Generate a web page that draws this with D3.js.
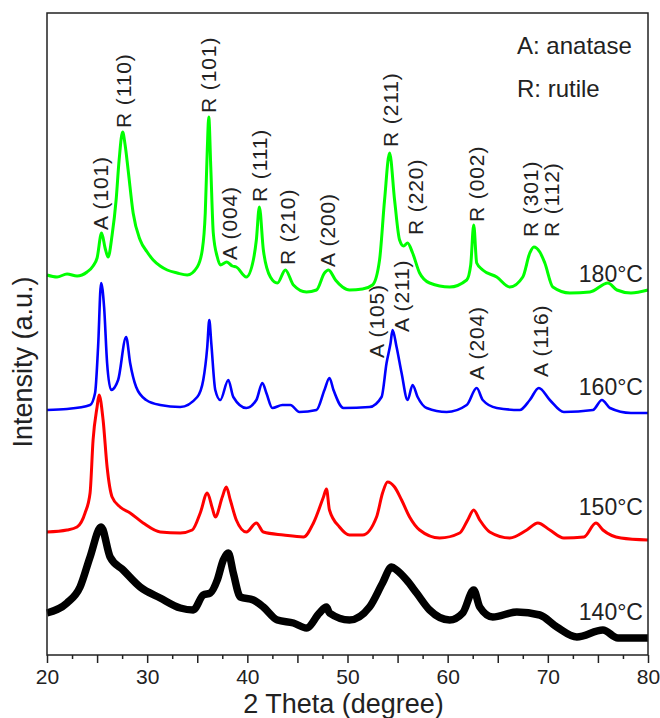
<!DOCTYPE html>
<html>
<head>
<meta charset="utf-8">
<script src="https://cdn.jsdelivr.net/npm/d3@7"></script>
<style>
  body { margin: 0; background: #fff; }
  svg text { font-family: "Liberation Sans", Arial, sans-serif; fill: #222; }
</style>
</head>
<body>
<svg id="chart" width="660" height="718"></svg>
<script>
// XRD patterns: [2 theta (deg), intensity (a.u., stacked)]
const xrd180 = [[20,380],[21,378],[22,381],[23,379],[24,383],[24.6,389],[25,397],[25.45,422],[25.8,407],[26.1,398],[26.5,420],[26.9,455],[27.2,495],[27.55,523],[27.8,510],[28.1,485],[28.6,442],[29.3,415],[30,403],[30.6,395],[31.3,389],[32,385],[33,382],[34,380],[35,388],[35.5,405],[35.8,442],[36,505],[36.15,538],[36.35,488],[36.6,422],[37,398],[37.3,390],[37.95,393],[38.5,389],[38.9,388],[39.9,378],[40.6,395],[40.9,415],[41.2,448],[41.6,405],[42.3,378],[43,372],[43.8,385],[44.6,370],[45.9,363],[46.9,365],[47.7,382],[48.1,385],[48.8,375],[49.5,368],[50.2,365],[51.5,366],[52.5,370],[53.2,395],[53.7,455],[54.2,502],[54.7,455],[55.2,415],[55.6,409],[56,412],[56.5,402],[57.2,382],[58.2,372],[60.2,368],[61.9,375],[62.3,390],[62.6,430],[62.9,392],[63.5,385],[64.9,378],[66.2,368],[67.5,378],[68.2,402],[68.6,408],[69.2,403],[69.7,392],[70.5,368],[72.2,362],[74.2,363],[76,372],[76.9,365],[78.3,362],[80,365]];
const xrd160 = [[20,245],[22,246],[24.3,250],[24.8,262],[25.1,308],[25.4,372],[25.7,348],[26,292],[26.4,265],[27.1,275],[27.9,318],[28.3,292],[28.9,268],[29.9,255],[31.3,250],[33.3,248],[35,258],[35.6,275],[36,308],[36.2,335],[36.4,312],[36.8,265],[37.3,255],[38.1,275],[38.6,258],[39.9,247],[40.9,255],[41.5,272],[41.9,262],[42.5,247],[43.5,250],[44.3,250],[45.2,243],[46.9,245],[47.7,265],[48.2,277],[48.6,265],[49.6,247],[52.2,248],[53.4,258],[53.9,292],[54.3,312],[54.5,325],[54.9,308],[55.4,282],[56,255],[56.5,270],[57,258],[57.9,247],[59.9,243],[61.9,250],[62.9,267],[63.5,255],[64.9,247],[67.2,245],[68.2,255],[69.1,267],[70.2,255],[71.6,243],[74.5,245],[75.4,255],[76.2,247],[78.3,242],[80,242]];
const xrd150 = [[20,123],[22,125],[23,128],[23.8,142],[24.3,162],[24.6,215],[25,248],[25.2,260],[25.6,235],[26,188],[26.5,158],[27.3,148],[28.3,142],[29.6,132],[31.3,123],[33.3,122],[34.5,125],[35.3,142],[36,162],[36.5,147],[36.8,138],[37.5,158],[37.9,168],[38.3,155],[38.9,135],[39.9,123],[40.9,132],[41.6,123],[43.6,120],[45.6,118],[46.6,132],[47.6,158],[47.9,166],[48.2,145],[49.2,128],[50.2,120],[51.5,120],[52.9,138],[53.5,162],[54,173],[54.7,168],[55.4,155],[56.2,138],[57.2,125],[59.2,117],[61.2,122],[62,135],[62.6,145],[63.2,135],[64.2,123],[66.2,117],[67.9,125],[69,132],[70.2,125],[71.6,117],[73.6,118],[74.8,132],[75.5,125],[77.3,117],[80,115]];
const xrd140 = [[20,42],[22,52],[23.3,68],[24.3,98],[25.4,128],[26.3,98],[27.6,85],[29.3,68],[31.3,57],[33.3,47],[34.6,45],[35.6,60],[36.3,62],[37,75],[37.6,95],[38.1,102],[38.6,82],[39.3,58],[40.6,55],[41.6,48],[43,35],[44.6,32],[45.9,27],[47.2,42],[47.9,48],[48.2,42],[50.2,35],[52.2,48],[53.5,72],[54.4,88],[54.9,85],[55.9,75],[56.9,62],[58.2,45],[60.2,35],[61.5,42],[62.6,65],[63.2,48],[64.5,38],[66.9,43],[69.2,40],[70.9,28],[72.9,18],[75.5,25],[77,17],[80,17]];

const seriesNames = ["180°C", "160°C", "150°C", "140°C"];
const seriesColors = ["#00ff00", "#0000ff", "#ff0000", "#000000"];
const seriesWidths = [3, 2.6, 3, 7.5];
const seriesData = [xrd180, xrd160, xrd150, xrd140];
// where each temperature tag sits: [2 theta, intensity]
const tagPos = [[79.5, 373], [79.5, 260], [79.5, 140], [79.5, 35]];

// reflection labels: text, 2 theta, intensity at start of text
const peakLabels = [
  ["A (101)", 25.29, 425], ["R (110)", 27.64, 527], ["R (101)", 36.12, 542],
  ["A (004)", 38.22, 395], ["R (111)", 41.21, 453], ["R (210)", 43.96, 390],
  ["A (200)", 48.0, 388], ["R (211)", 54.24, 508], ["R (220)", 56.74, 420],
  ["R (002)", 62.88, 433], ["R (301)", 68.22, 418], ["R (112)", 70.36, 418],
  ["A (105)", 52.89, 297], ["A (211)", 55.34, 323], ["A (204)", 62.88, 275],
  ["A (116)", 69.22, 278]
];
const legendLines = ["A: anatase", "R: rutile"];
const xTicks = [20, 30, 40, 50, 60, 70, 80];

const margin = { top: 13, right: 12, bottom: 63, left: 47 };
const width = 660, height = 718;
const svg = d3.select("#chart");

const x = d3.scaleLinear().domain([20, 80]).range([margin.left, width - margin.right]);
const y = d3.scaleLinear().domain([0, 642]).range([height - margin.bottom, margin.top]);

const line = d3.line()
  .x(d => x(d[0]))
  .y(d => y(d[1]))
  .curve(d3.curveMonotoneX);

// curves, bottom one first
seriesData.slice().reverse().forEach((s, k) => {
  const i = seriesData.length - 1 - k;
  svg.append("path")
    .datum(s)
    .attr("fill", "none")
    .attr("stroke", seriesColors[i])
    .attr("stroke-width", seriesWidths[i])
    .attr("stroke-linejoin", "round")
    .attr("d", line);
});

// frame
svg.append("rect")
  .attr("x", x(20)).attr("y", margin.top)
  .attr("width", x(80) - x(20))
  .attr("height", y(0) - margin.top)
  .attr("fill", "none")
  .attr("stroke", "#222")
  .attr("stroke-width", 1.5);

// bottom axis: major every 5, labels every 10, minor every 2.5
const xAxis = d3.axisBottom(x)
  .tickValues(d3.range(20, 80.01, 5))
  .tickSize(8)
  .tickFormat(d => xTicks.includes(d) ? d : "");
const gx = svg.append("g")
  .attr("transform", `translate(0,${y(0)})`)
  .call(xAxis);
gx.select(".domain").remove();
gx.selectAll("line").attr("stroke", "#222").attr("stroke-width", 1.5);
gx.selectAll("text")
  .attr("font-size", 21)
  .attr("dy", null)
  .attr("y", 29)
  .style("font-family", "'Liberation Sans', Arial, sans-serif")
  .attr("fill", "#222");

const xMinor = d3.axisBottom(x)
  .tickValues(d3.range(22.5, 80, 5))
  .tickSize(4)
  .tickFormat("");
const gm = svg.append("g")
  .attr("transform", `translate(0,${y(0)})`)
  .call(xMinor);
gm.select(".domain").remove();
gm.selectAll("line").attr("stroke", "#222").attr("stroke-width", 1.5);

// axis titles
svg.append("text")
  .attr("x", (x(20) + x(80)) / 2 - 4)
  .attr("y", 713)
  .attr("text-anchor", "middle")
  .attr("font-size", 27)
  .text("2 Theta (degree)");

svg.append("text")
  .attr("transform", "translate(32,362) rotate(-90)")
  .attr("text-anchor", "middle")
  .attr("font-size", 27)
  .text("Intensity (a.u.)");

// temperature tags
seriesNames.forEach((name, i) => {
  svg.append("text")
    .attr("x", x(tagPos[i][0]))
    .attr("y", y(tagPos[i][1]))
    .attr("text-anchor", "end")
    .attr("font-size", 23)
    .text(name);
});

// reflection labels, rotated
const labelSize = 21;
svg.selectAll(".peak")
  .data(peakLabels)
  .enter()
  .append("text")
  .attr("class", "peak")
  .attr("font-size", labelSize)
  .attr("letter-spacing", 0.9)
  .attr("transform", d => `translate(${x(d[1]) + labelSize * 0.36},${y(d[2])}) rotate(-90)`)
  .text(d => d[0]);

// legend
legendLines.forEach((t, i) => {
  svg.append("text")
    .attr("x", 517)
    .attr("y", 54 + i * 43)
    .attr("font-size", 24)
    .text(t);
});
</script>
</body>
</html>
